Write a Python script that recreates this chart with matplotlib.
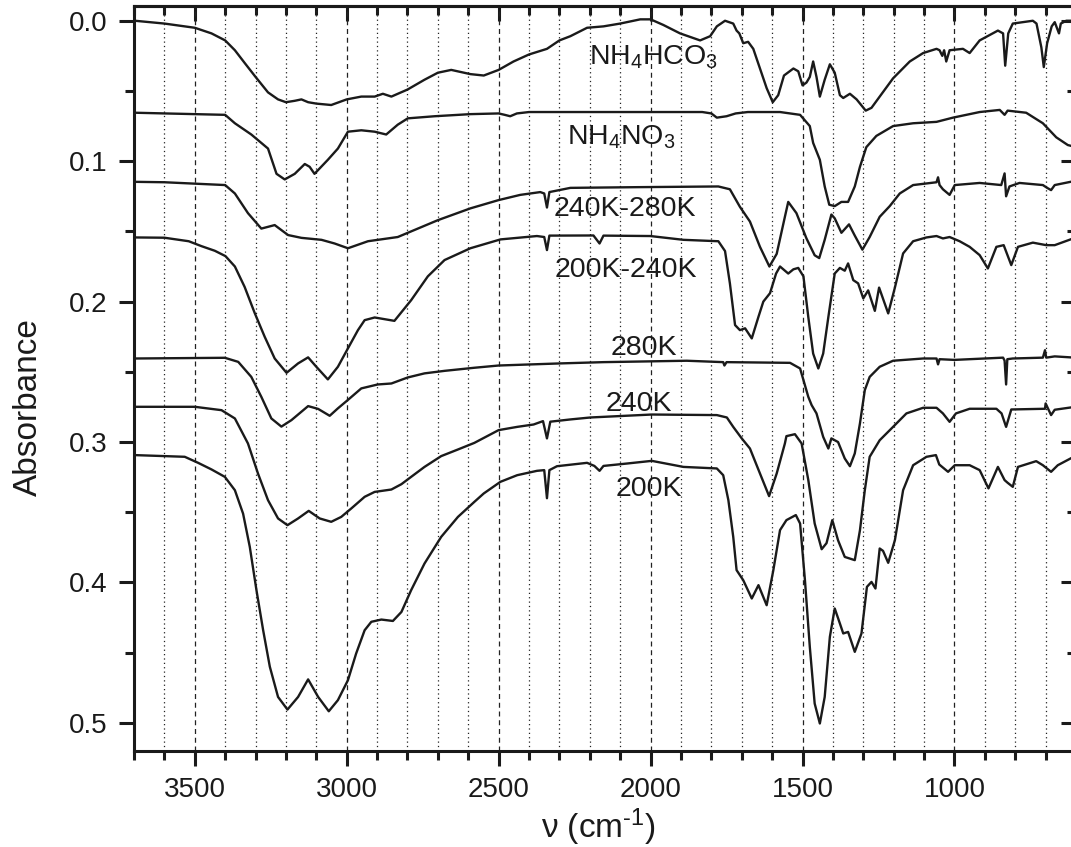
import matplotlib
matplotlib.use("Agg")
import matplotlib.pyplot as plt
from matplotlib.ticker import MultipleLocator

plt.rcParams['font.family'] = ['Liberation Sans', 'DejaVu Sans']
plt.rcParams['mathtext.fontset'] = 'custom'
plt.rcParams['mathtext.rm'] = 'Liberation Sans'
plt.rcParams['mathtext.it'] = 'Liberation Sans:italic'

# ---- spectra (wavenumber cm-1, absorbance) ----
hco3_wn = [3697, 3600, 3500, 3445, 3400, 3368, 3336, 3300, 3259, 3226, 3200, 3171, 3149, 3127, 3100,
           3051, 3000, 2952, 2908, 2881, 2853, 2800, 2744, 2700, 2656, 2593, 2549, 2500, 2451, 2400,
           2341, 2300, 2264, 2209, 2155, 2100, 2034, 2000, 1958, 1903, 1837, 1804, 1782, 1755, 1728,
           1717, 1708, 1695, 1679, 1662, 1640, 1618, 1598, 1580, 1561, 1530, 1514, 1500, 1487, 1476,
           1465, 1454, 1443, 1427, 1410, 1394, 1377, 1366, 1344, 1322, 1292, 1273, 1246, 1202, 1147,
           1103, 1059, 1049, 1040, 1034, 1027, 1016, 972, 950, 917, 857, 840, 833, 823, 808,
           742, 730, 714, 706, 695, 680, 670, 656, 650, 632, 618]
hco3_ab = [0.000, 0.002, 0.005, 0.009, 0.014, 0.021, 0.030, 0.040, 0.051, 0.056, 0.058, 0.057, 0.056, 0.058, 0.059,
           0.060, 0.056, 0.054, 0.054, 0.052, 0.054, 0.049, 0.042, 0.037, 0.035, 0.038, 0.039, 0.035, 0.029, 0.024,
           0.020, 0.014, 0.011, 0.005, 0.004, 0.002, -0.001, -0.001, 0.003, 0.009, 0.014, 0.011, 0.004, 0.000, 0.002,
           0.007, 0.009, 0.016, 0.015, 0.020, 0.034, 0.048, 0.058, 0.053, 0.039, 0.034, 0.036, 0.046, 0.044, 0.040,
           0.029, 0.040, 0.054, 0.042, 0.031, 0.037, 0.053, 0.055, 0.052, 0.056, 0.064, 0.062, 0.054, 0.041, 0.029,
           0.023, 0.020, 0.021, 0.025, 0.021, 0.029, 0.021, 0.020, 0.023, 0.014, 0.007, 0.009, 0.032, 0.009, 0.002,
           0.000, 0.002, 0.019, 0.033, 0.016, 0.004, 0.001, 0.009, 0.002, 0.000, 0.000]

no3_wn = [3697, 3400, 3368, 3314, 3259, 3231, 3204, 3171, 3138, 3122, 3106, 3062, 3029, 2996, 2952,
          2908, 2870, 2832, 2799, 2711, 2593, 2500, 2480, 2462, 2440, 2400, 1830, 1800, 1782, 1750,
          1720, 1680, 1574, 1508, 1476, 1465, 1443, 1427, 1412, 1394, 1372, 1350, 1328, 1311, 1290,
          1257, 1202, 1136, 1059, 1005, 917, 851, 835, 825, 764, 709, 665, 627, 618]
no3_ab = [0.0655, 0.067, 0.073, 0.081, 0.091, 0.109, 0.113, 0.109, 0.102, 0.104, 0.109, 0.099, 0.091, 0.079, 0.078,
          0.079, 0.081, 0.074, 0.0695, 0.068, 0.0665, 0.066, 0.067, 0.068, 0.066, 0.065, 0.065, 0.066, 0.069, 0.068,
          0.066, 0.065, 0.065, 0.067, 0.075, 0.087, 0.099, 0.118, 0.131, 0.132, 0.129, 0.129, 0.118, 0.104, 0.090,
          0.082, 0.075, 0.073, 0.072, 0.069, 0.065, 0.0635, 0.067, 0.064, 0.0655, 0.073, 0.083, 0.0885, 0.089]

k240_280_wn = [3697, 3600, 3500, 3400, 3368, 3325, 3281, 3237, 3193, 3149, 3083, 3040, 2996, 2930, 2832,
               2766, 2700, 2593, 2500, 2429, 2363, 2350, 2341, 2333, 2264, 2045, 1777, 1739, 1706, 1673,
               1640, 1609, 1585, 1558, 1547, 1520, 1487, 1460, 1445, 1427, 1405, 1394, 1372, 1347, 1328,
               1303, 1279, 1246, 1213, 1180, 1136, 1059, 1054, 1049, 1038, 1016, 999, 917, 846, 835,
               830, 819, 786, 709, 695, 682, 670, 618]
k240_280_ab = [0.1147, 0.115, 0.116, 0.117, 0.123, 0.137, 0.148, 0.1455, 0.1526, 0.1546, 0.156, 0.1586, 0.162, 0.157, 0.154,
               0.148, 0.142, 0.1336, 0.1277, 0.124, 0.122, 0.123, 0.133, 0.122, 0.119, 0.1185, 0.118, 0.120, 0.1325, 0.143,
               0.161, 0.175, 0.166, 0.1396, 0.129, 0.137, 0.155, 0.167, 0.169, 0.156, 0.138, 0.1407, 0.151, 0.145, 0.153,
               0.163, 0.154, 0.1396, 0.132, 0.123, 0.117, 0.115, 0.1115, 0.117, 0.120, 0.124, 0.117, 0.1155, 0.117, 0.1087,
               0.125, 0.118, 0.1155, 0.117, 0.119, 0.1206, 0.117, 0.1147]

k200_240_wn = [3697, 3600, 3520, 3478, 3434, 3399, 3368, 3336, 3303, 3270, 3237, 3198, 3160, 3127, 3100,
               3062, 3029, 2996, 2963, 2941, 2908, 2843, 2788, 2733, 2678, 2593, 2494, 2374, 2350, 2341,
               2333, 2188, 2168, 2155, 2001, 1892, 1777, 1755, 1739, 1722, 1706, 1689, 1667, 1645, 1629,
               1607, 1587, 1574, 1547, 1530, 1514, 1497, 1481, 1465, 1448, 1432, 1415, 1394, 1377, 1361,
               1350, 1333, 1317, 1300, 1284, 1262, 1248, 1218, 1196, 1169, 1136, 1092, 1059, 1038, 1016,
               983, 950, 917, 890, 862, 838, 813, 791, 742, 698, 670, 618]
k200_240_ab = [0.1543, 0.1545, 0.157, 0.1605, 0.1638, 0.1676, 0.175, 0.1895, 0.208, 0.225, 0.2405, 0.2507, 0.244, 0.2397, 0.2464,
               0.2554, 0.2464, 0.2333, 0.2203, 0.2132, 0.2113, 0.2137, 0.199, 0.182, 0.1704, 0.162, 0.1557, 0.1533, 0.154, 0.1633,
               0.153, 0.1529, 0.1586, 0.153, 0.1533, 0.156, 0.157, 0.164, 0.187, 0.2167, 0.2203, 0.219, 0.2262, 0.2108, 0.200,
               0.194, 0.180, 0.175, 0.180, 0.177, 0.176, 0.182, 0.211, 0.237, 0.2476, 0.237, 0.211, 0.180, 0.176, 0.178,
               0.1728, 0.1847, 0.187, 0.1977, 0.192, 0.2066, 0.190, 0.2084, 0.190, 0.1657, 0.157, 0.1543, 0.1533, 0.155, 0.154,
               0.157, 0.161, 0.1669, 0.1764, 0.161, 0.1598, 0.174, 0.161, 0.158, 0.1598, 0.1598, 0.1557]

k280_wn = [3697, 3401, 3357, 3314, 3281, 3248, 3215, 3182, 3127, 3094, 3056, 3029, 2996, 2952, 2898,
           2853, 2799, 2744, 2678, 2580, 2500, 2297, 2155, 1881, 1761, 1757, 1750, 1541, 1508, 1481,
           1470, 1454, 1432, 1415, 1405, 1383, 1361, 1344, 1328, 1311, 1295, 1279, 1246, 1202, 1103,
           1059, 1054, 1049, 1000, 840, 835, 830, 826, 808, 709, 702, 698, 670, 618]
k280_ab = [0.2405, 0.240, 0.2429, 0.2536, 0.2678, 0.2832, 0.289, 0.2844, 0.2744, 0.2764, 0.2813, 0.276, 0.270, 0.2618, 0.259,
           0.2583, 0.254, 0.2511, 0.2493, 0.2471, 0.2455, 0.244, 0.2431, 0.2421, 0.2431, 0.2455, 0.2431, 0.2436, 0.2476, 0.2678,
           0.2737, 0.2796, 0.2963, 0.3046, 0.2974, 0.300, 0.3117, 0.3172, 0.3081, 0.2867, 0.263, 0.2536, 0.2464, 0.2421, 0.2405,
           0.2405, 0.2447, 0.241, 0.2415, 0.2399, 0.2420, 0.259, 0.241, 0.2405, 0.2399, 0.2346, 0.2399, 0.2390, 0.2397]

k240_wn = [3697, 3500, 3412, 3368, 3325, 3292, 3259, 3226, 3195, 3160, 3125, 3089, 3051, 3018, 2985,
           2941, 2908, 2853, 2820, 2788, 2744, 2689, 2634, 2580, 2500, 2439, 2385, 2354, 2341, 2330,
           2264, 2198, 1996, 1782, 1749, 1728, 1700, 1673, 1640, 1610, 1585, 1558, 1553, 1525, 1503,
           1481, 1460, 1437, 1421, 1402, 1383, 1361, 1328, 1311, 1295, 1279, 1246, 1202, 1158, 1103,
           1059, 1038, 1016, 995, 950, 862, 845, 830, 813, 702, 700, 682, 670, 618]
k240_ab = [0.2749, 0.2749, 0.2773, 0.2832, 0.301, 0.3224, 0.3414, 0.3544, 0.3592, 0.3544, 0.349, 0.3544, 0.3568, 0.3533, 0.3473,
           0.339, 0.3355, 0.3338, 0.330, 0.3248, 0.3177, 0.310, 0.3053, 0.3006, 0.2915, 0.2892, 0.2875, 0.2851, 0.2974, 0.2855,
           0.2839, 0.2825, 0.2804, 0.2808, 0.2825, 0.2892, 0.2974, 0.3046, 0.3224, 0.3385, 0.3224, 0.301, 0.2958, 0.2944, 0.301,
           0.327, 0.358, 0.3763, 0.372, 0.3556, 0.370, 0.3818, 0.3841, 0.3628, 0.3343, 0.3105, 0.2987, 0.2892, 0.2796, 0.2756,
           0.2756, 0.2796, 0.2856, 0.2796, 0.2763, 0.2763, 0.2796, 0.2892, 0.2768, 0.2763, 0.2725, 0.2808, 0.277, 0.2754]

k200_wn = [3697, 3533, 3489, 3445, 3401, 3368, 3341, 3319, 3297, 3275, 3253, 3226, 3195, 3160, 3127,
           3094, 3059, 3029, 2996, 2969, 2941, 2919, 2886, 2848, 2820, 2788, 2744, 2689, 2634, 2580,
           2549, 2494, 2439, 2374, 2350, 2341, 2333, 2308, 2209, 2185, 2168, 2155, 2078, 1996, 1892,
           1782, 1761, 1744, 1728, 1717, 1695, 1667, 1645, 1618, 1596, 1574, 1553, 1522, 1508, 1492,
           1476, 1460, 1443, 1427, 1410, 1394, 1377, 1366, 1350, 1328, 1306, 1288, 1273, 1260, 1246,
           1235, 1218, 1196, 1169, 1136, 1092, 1061, 1050, 1021, 999, 950, 917, 888, 857, 835,
           825, 808, 791, 731, 709, 682, 660, 618]
k200_ab = [0.3093, 0.3105, 0.3148, 0.3195, 0.3248, 0.3343, 0.351, 0.3746, 0.4055, 0.434, 0.460, 0.4815, 0.4905, 0.4815, 0.469,
           0.4815, 0.4917, 0.4838, 0.4696, 0.4506, 0.434, 0.428, 0.4264, 0.4274, 0.421, 0.4055, 0.3865, 0.3675, 0.3533, 0.3426,
           0.3366, 0.3283, 0.3236, 0.3205, 0.320, 0.340, 0.320, 0.3172, 0.3148, 0.3170, 0.3205, 0.3170, 0.3153, 0.3134, 0.3177,
           0.3188, 0.3236, 0.3414, 0.3675, 0.3912, 0.3984, 0.4114, 0.4019, 0.4162, 0.3912, 0.3627, 0.3556, 0.352, 0.358, 0.3984,
           0.4459, 0.4862, 0.5004, 0.4815, 0.4387, 0.4185, 0.4292, 0.4363, 0.4352, 0.4494, 0.4363, 0.4031, 0.3996, 0.4043, 0.3758,
           0.3775, 0.386, 0.3699, 0.3343, 0.3165, 0.3105, 0.3093, 0.3160, 0.3212, 0.3165, 0.3165, 0.320, 0.333, 0.3177, 0.3271,
           0.3290, 0.3319, 0.3177, 0.3136, 0.3165, 0.3212, 0.3165, 0.3117]

labels = [r'NH$_\mathregular{4}$HCO$_\mathregular{3}$', r'NH$_\mathregular{4}$NO$_\mathregular{3}$',
          '240K-280K', '200K-240K', '280K', '240K', '200K']
label_wn = [2204, 2274, 2319, 2317, 2133, 2149, 2114]
label_ab = [0.031, 0.0878, 0.139, 0.1828, 0.238, 0.278, 0.3385]

curves = [(hco3_wn, hco3_ab), (no3_wn, no3_ab), (k240_280_wn, k240_280_ab),
          (k200_240_wn, k200_240_ab), (k280_wn, k280_ab), (k240_wn, k240_ab), (k200_wn, k200_ab)]

fig = plt.figure(figsize=(10.71, 8.47), dpi=100)
ax = fig.add_axes([0.12512, 0.11334, 0.87955, 0.87957])

for wn, ab in curves:
    ax.plot(wn, ab, color='#1a1a1a', lw=1.7, solid_joinstyle='round')

for txt, x, y in zip(labels, label_wn, label_ab):
    ax.text(x, y, txt, fontsize=20.5, ha='left', va='baseline', color='#1a1a1a')

ax.set_xlim(3700, 600)
ax.set_ylim(0.52, -0.0105)

ax.xaxis.set_major_locator(MultipleLocator(500))
ax.xaxis.set_minor_locator(MultipleLocator(100))
ax.yaxis.set_major_locator(MultipleLocator(0.1))
ax.yaxis.set_minor_locator(MultipleLocator(0.05))
ax.yaxis.set_major_formatter(matplotlib.ticker.FormatStrFormatter('%.1f'))

ax.grid(which='major', axis='x', color='#222222', lw=0.9, linestyle=(0, (4, 3)))
ax.grid(which='minor', axis='x', color='#222222', lw=0.9, linestyle=(0, (1, 2.5)))

ax.tick_params(which='both', direction='out', width=2.2, labelsize=20, colors='#1a1a1a',
               top=False, right=False)
ax.tick_params(which='major', length=11, pad=8)
ax.tick_params(which='minor', length=6.5)
for s in ax.spines.values():
    s.set_linewidth(2.2)
    s.set_color('#1a1a1a')

top = ax.secondary_xaxis('top')
top.xaxis.set_major_locator(MultipleLocator(500))
top.xaxis.set_minor_locator(MultipleLocator(100))
top.tick_params(which='both', direction='in', width=2.2, labeltop=False, colors='#1a1a1a')
top.tick_params(which='major', length=11)
top.tick_params(which='minor', length=6.5)
top.spines['top'].set_linewidth(2.2)

right = ax.secondary_yaxis('right')
right.yaxis.set_major_locator(MultipleLocator(0.1))
right.yaxis.set_minor_locator(MultipleLocator(0.05))
right.tick_params(which='both', direction='in', width=2.2, labelright=False, colors='#1a1a1a')
right.tick_params(which='major', length=11)
right.tick_params(which='minor', length=6.5)

# plain hyphen in the exponent, as in the original
ax.set_xlabel('ν (cm$^{\\mathregular{\u2010}1}$)', fontsize=24, color='#1a1a1a')
ax.set_ylabel('Absorbance', fontsize=24, color='#1a1a1a')
ax.xaxis.set_label_coords(0.4926, -0.074)
ax.yaxis.set_label_coords(-0.0955, 0.461)

fig.savefig('out.png', dpi=100)
